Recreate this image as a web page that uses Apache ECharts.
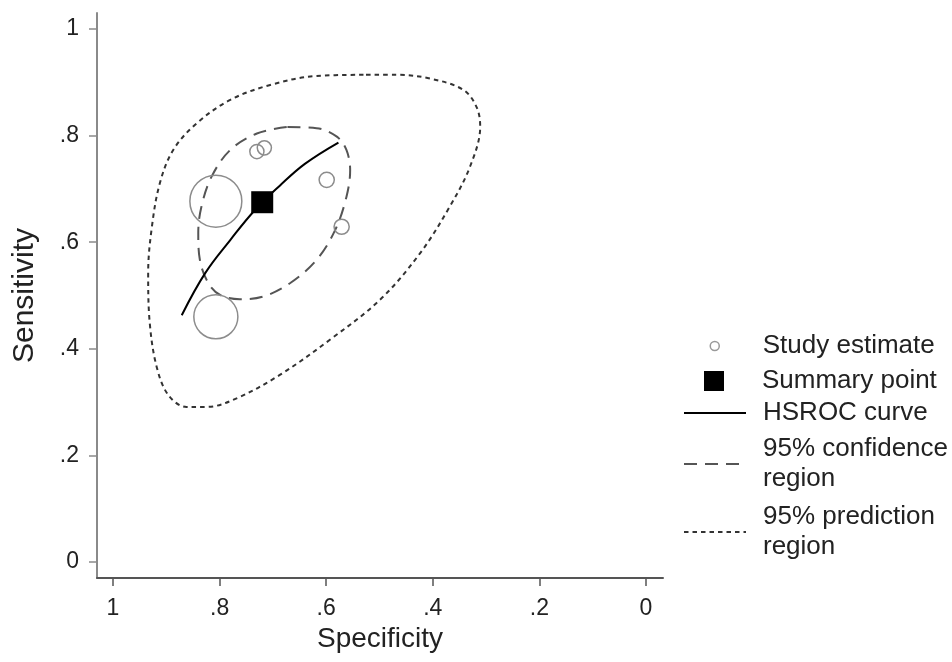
<!DOCTYPE html>
<html>
<head>
<meta charset="utf-8">
<script src="https://cdn.jsdelivr.net/npm/echarts@6/dist/echarts.min.js"></script>
<style>
html,body{margin:0;padding:0;background:#fff;}
#chart{width:952px;height:662px;}
</style>
</head>
<body>
<div id="chart"></div>
<script>
// ---- data ----
const tickValues = [0, 0.2, 0.4, 0.6, 0.8, 1];
const tickLabels = ['0', '.2', '.4', '.6', '.8', '1'];

const studySpec = [0.807, 0.807, 0.730, 0.716, 0.599, 0.571];
const studySens = [0.677, 0.460, 0.770, 0.777, 0.717, 0.629];
const studyWeight = [27, 19.4, 2, 2, 2.3, 2.3];

const summarySpec = [0.720];
const summarySens = [0.675];

const hsrocSpec = [0.871, 0.827, 0.780, 0.734, 0.687, 0.640, 0.577];
const hsrocSens = [0.463, 0.542, 0.604, 0.660, 0.706, 0.747, 0.787];

const confSpec = [0.674, 0.730, 0.780, 0.815, 0.834, 0.840, 0.837, 0.821, 0.799, 0.762, 0.718, 0.668, 0.618, 0.583, 0.562, 0.555, 0.562, 0.580, 0.618, 0.674];
const confSens = [0.816, 0.804, 0.773, 0.723, 0.667, 0.617, 0.567, 0.523, 0.501, 0.493, 0.498, 0.523, 0.567, 0.623, 0.685, 0.735, 0.773, 0.798, 0.814, 0.816];

const predSpec = [0.530, 0.618, 0.705, 0.780, 0.843, 0.887, 0.912, 0.927, 0.934, 0.931, 0.918, 0.896, 0.862, 0.824, 0.768, 0.687, 0.593, 0.499, 0.424, 0.368, 0.330, 0.311, 0.318, 0.343, 0.405, 0.468, 0.530];
const predSens = [0.914, 0.912, 0.895, 0.867, 0.823, 0.773, 0.711, 0.629, 0.542, 0.448, 0.366, 0.313, 0.291, 0.291, 0.307, 0.351, 0.417, 0.492, 0.579, 0.667, 0.742, 0.817, 0.854, 0.886, 0.907, 0.914, 0.914];

const names = ['Study estimate', 'Summary point', 'HSROC curve', '95% confidence\nregion', '95% prediction\nregion'];

// ---- chart ----
const pair = (xs, ys) => xs.map((x, i) => [x, ys[i]]);
const fmt = v => {
  const i = tickValues.findIndex(t => Math.abs(t - v) < 1e-9);
  return i >= 0 ? tickLabels[i] : '';
};
const FONT = 'Liberation Sans, Arial, Helvetica, sans-serif';
const chart = echarts.init(document.getElementById('chart'), null, {renderer: 'canvas'});

const legendText = pad => ({fontFamily: FONT, fontSize: 26, color: '#222', lineHeight: 30, padding: [0, 0, 0, pad]});
const hiddenSymbol = {color: 'transparent', borderColor: 'transparent', borderWidth: 0, opacity: 0};
const lineLegend = (name, top) => ({
  data: [name], left: 683, top: top, orient: 'vertical', padding: 0,
  itemWidth: 62, itemHeight: 14, selectedMode: false,
  itemStyle: hiddenSymbol,
  textStyle: legendText(12)
});

chart.setOption({
  animation: false,
  backgroundColor: '#fff',
  grid: {left: 97, right: 289, top: 13, bottom: 84, containLabel: false},
  xAxis: {
    type: 'value', inverse: true, min: -0.032, max: 1.03,
    name: 'Specificity', nameLocation: 'middle', nameGap: 46,
    nameTextStyle: {fontFamily: FONT, fontSize: 28, color: '#222'},
    axisLine: {show: true, onZero: false, lineStyle: {color: '#555', width: 2}},
    axisTick: {show: true, length: 8, customValues: tickValues, lineStyle: {color: '#555', width: 1.5}},
    axisLabel: {customValues: tickValues, formatter: fmt, fontFamily: FONT, fontSize: 23, color: '#222', margin: 19},
    splitLine: {show: false}
  },
  yAxis: {
    type: 'value', min: -0.03, max: 1.03,
    name: 'Sensitivity', nameLocation: 'middle', nameGap: 57,
    nameTextStyle: {fontFamily: FONT, fontSize: 30, color: '#222'},
    axisLine: {show: true, onZero: false, lineStyle: {color: '#8a8a8a', width: 2}},
    axisTick: {show: true, length: 8, customValues: tickValues, lineStyle: {color: '#8a8a8a', width: 1.5}},
    axisLabel: {customValues: tickValues, formatter: fmt, fontFamily: FONT, fontSize: 23, color: '#222', margin: 18},
    splitLine: {show: false}
  },
  legend: [
    {
      data: [names[0]], left: 709.5, top: 331, orient: 'vertical', padding: 0,
      itemWidth: 62, itemHeight: 9, selectedMode: false,
      itemStyle: {color: 'transparent', borderColor: '#999', borderWidth: 1.5, opacity: 1},
      textStyle: legendText(12)
    },
    {
      data: [names[1]], left: 704, top: 366, orient: 'vertical', padding: 0,
      itemWidth: 20, itemHeight: 20, selectedMode: false,
      itemStyle: {color: '#000', opacity: 1},
      textStyle: legendText(33)
    },
    lineLegend(names[2], 398),
    lineLegend(names[3], 434),
    lineLegend(names[4], 502)
  ],
  series: [
    {
      name: names[4], type: 'line', data: pair(predSpec, predSens),
      smooth: 0.35, symbol: 'none', z: 2,
      lineStyle: {color: '#333', width: 2, type: [4.5, 4]},
      itemStyle: {color: '#333'}
    },
    {
      name: names[3], type: 'line', data: pair(confSpec, confSens),
      smooth: 0.35, symbol: 'none', z: 2,
      lineStyle: {color: '#555', width: 2, type: [13, 8]},
      itemStyle: {color: '#555'}
    },
    {
      name: names[2], type: 'line', data: pair(hsrocSpec, hsrocSens),
      smooth: 0.4, symbol: 'none', z: 3,
      lineStyle: {color: '#000', width: 2},
      itemStyle: {color: '#000'}
    },
    {
      name: names[0], type: 'scatter', data: pair(studySpec, studySens),
      symbol: 'circle', z: 4,
      symbolSize: (v, p) => 10 * Math.sqrt(studyWeight[p.dataIndex]),
      itemStyle: {color: 'transparent', borderColor: '#8c8c8c', borderWidth: 1.5, opacity: 1}
    },
    {
      name: names[1], type: 'scatter', data: pair(summarySpec, summarySens),
      symbol: 'rect', symbolSize: 22, z: 5,
      itemStyle: {color: '#000', opacity: 1}
    }
  ]
});
</script>
</body>
</html>
